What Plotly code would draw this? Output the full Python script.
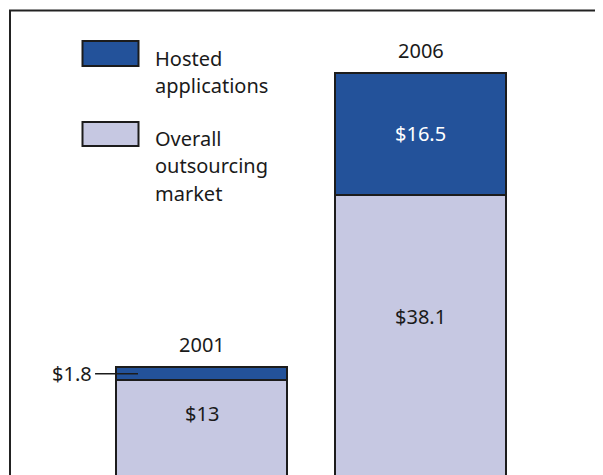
import plotly.graph_objects as go

# ---- data ----
years = ["2001", "2006"]
hosted = [1.8, 16.5]
overall = [13.0, 38.1]
hosted_labels = ["$1.8", "$16.5"]
overall_labels = ["$13", "$38.1"]
legend_names = ["Hosted applications", "Overall outsourcing market"]

DARK = "#23529a"
LIGHT = "#c6c8e2"
EDGE = "#1c1c1c"
TXT = "#1a1a1a"
FONT = "Noto Sans"
FS = 20

# page body has an 8px margin; figure sized to fit the 603x475 window exactly
OFF = 8
W, H = 603 - OFF, 475 - OFF
px = lambda x: (x - OFF) / W
py = lambda y: 1 - (y - OFF) / H

fig = go.Figure()
fig.add_trace(go.Bar(x=years, y=overall, name=legend_names[1], width=0.781,
                     marker=dict(color=LIGHT, line=dict(color=EDGE, width=2)),
                     hoverinfo="skip"))
fig.add_trace(go.Bar(x=years, y=hosted, name=legend_names[0], width=0.781,
                     marker=dict(color=DARK, line=dict(color=EDGE, width=2)),
                     hoverinfo="skip"))

ann = []
shapes = []

# year labels above bars
for i, yr in enumerate(years):
    ann.append(dict(x=i, y=hosted[i] + overall[i], xref="x", yref="y", text=yr,
                    showarrow=False, yshift=23, yanchor="middle",
                    font=dict(family=FONT, size=FS, color=TXT)))

# overall market labels
frac = [0.66, 0.57]
for i in range(len(years)):
    ann.append(dict(x=i, y=overall[i] * frac[i], xref="x", yref="y", text=overall_labels[i],
                    showarrow=False, yanchor="middle",
                    font=dict(family=FONT, size=FS, color=TXT)))

# hosted labels
ann.append(dict(x=1, y=overall[1] + hosted[1] / 2, xref="x", yref="y", text=hosted_labels[1],
                showarrow=False, yanchor="middle",
                font=dict(family=FONT, size=FS, color="white")))
ymid = overall[0] + hosted[0] / 2
ann.append(dict(x=-0.486, y=ymid, xref="x", yref="y", text=hosted_labels[0],
                showarrow=False, xanchor="right", yanchor="middle", xshift=-1,
                font=dict(family=FONT, size=FS, color=TXT)))
shapes.append(dict(type="line", xref="x", yref="y", x0=-0.486, x1=-0.29, y0=ymid, y1=ymid,
                   line=dict(color=EDGE, width=1.5)))

# custom legend
leg = [
    (DARK, 41, 66, ["Hosted", "applications"], 58),
    (LIGHT, 122, 146, ["Overall", "outsourcing", "market"], 138),
]
for color, y0, y1, lines, ty in leg:
    shapes.append(dict(type="rect", xref="paper", yref="paper",
                       x0=px(82.5), x1=px(138.5), y0=py(y1), y1=py(y0),
                       fillcolor=color, line=dict(color=EDGE, width=2)))
    for k, t in enumerate(lines):
        ann.append(dict(x=px(153), y=py(ty + k * 27.7), xref="paper", yref="paper", text=t,
                        showarrow=False, xanchor="left", yanchor="middle",
                        font=dict(family=FONT, size=FS, color=TXT)))

# frame
shapes.append(dict(type="rect", xref="paper", yref="paper",
                   x0=px(10), x1=px(640), y0=py(500), y1=py(10.5),
                   line=dict(color="#222222", width=2), fillcolor="rgba(0,0,0,0)", layer="above"))

fig.update_layout(
    width=W, height=H,
    margin=dict(l=0, r=0, t=0, b=0),
    barmode="stack",
    showlegend=False,
    plot_bgcolor="white", paper_bgcolor="white",
    xaxis=dict(type="category", range=[-0.8836, 1.8333], visible=False, fixedrange=True),
    yaxis=dict(range=[0.2, 63.40], visible=False, fixedrange=True),
    annotations=ann,
    shapes=shapes,
)

fig.write_html("out.html")
